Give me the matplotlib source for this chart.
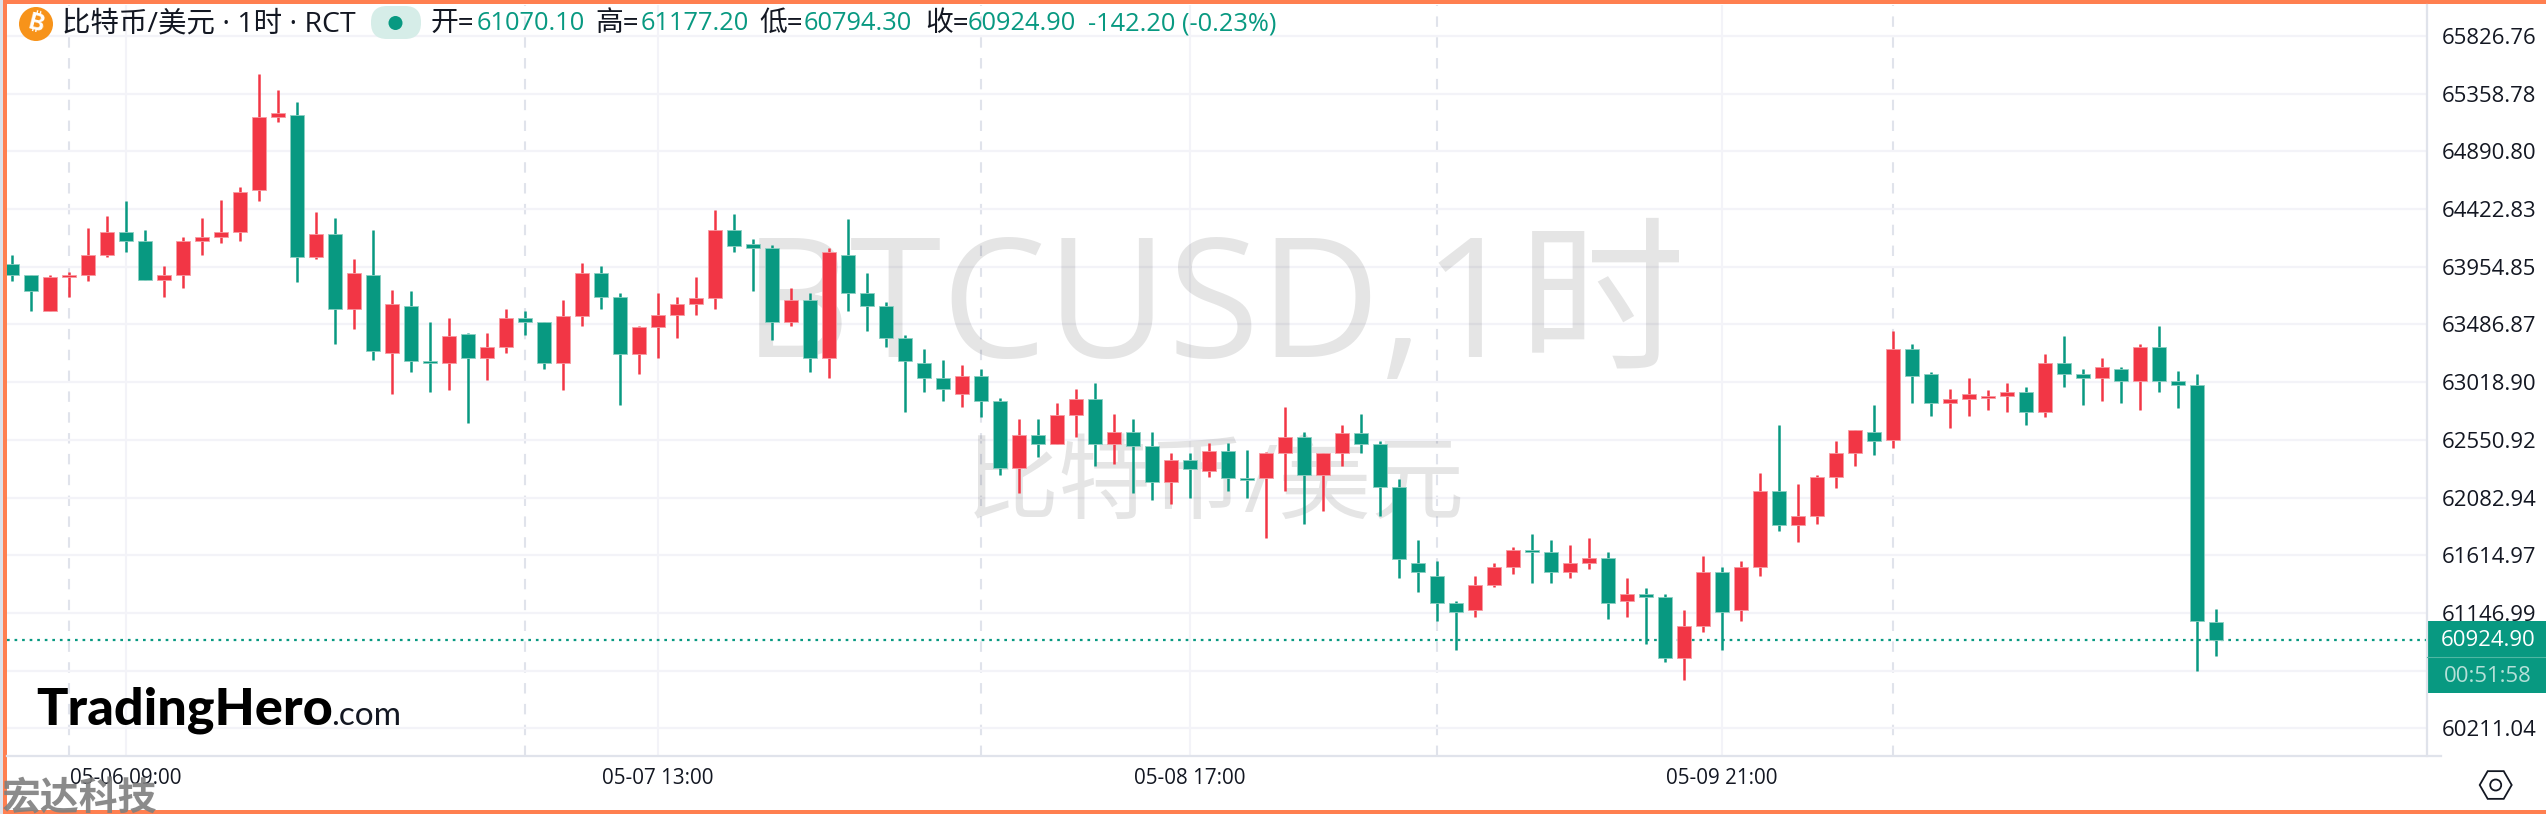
import matplotlib
matplotlib.use("Agg")
import matplotlib.pyplot as plt
from matplotlib.patches import Rectangle, Circle, FancyBboxPatch, RegularPolygon
import numpy as np

plt.rcParams['font.family'] = ['Open Sans', 'Noto Sans CJK SC', 'DejaVu Sans']

opens = [63978,63889,63597,63873,63889,64051,64237,64164,63845,63889,
 64164,64197,64237,64575,65173,65186,64035,64224,63613,63889,
 63259,63640,63189,63172,63408,63216,63305,63540,63508,63172,
 63554,63905,63713,63248,63467,63567,63653,63699,64253,64137,
 64108,63507,63686,63216,64051,63743,63640,63378,63175,63053,
 62924,63069,62867,62326,62591,62515,62751,62883,62515,62618,
 62502,62210,62386,62296,62459,62240,62240,62445,62575,62267,
 62445,62604,62518,62167,61553,61450,61231,61172,61375,61523,
 61656,61639,61480,61553,61596,61245,61304,61277,60780,61042,
 61480,61172,61523,62137,61858,61934,62253,62445,62618,62548,
 63288,63086,62850,62883,62894,62907,62940,62778,63175,63086,
 63053,63126,63029,63305,63029,62997,61070.1]
closes = [63889,63759,63873,63889,64051,64237,64164,63845,63889,64164,
 64197,64237,64562,65173,65202,64035,64224,63613,63905,63275,
 63654,63189,63172,63394,63216,63305,63540,63508,63172,63554,
 63905,63713,63248,63467,63567,63653,63699,64253,64124,64108,
 63507,63686,63216,64078,63743,63640,63378,63188,63053,62967,
 63069,62867,62326,62591,62515,62751,62883,62515,62618,62502,
 62210,62386,62313,62459,62240,62226,62445,62575,62267,62445,
 62604,62518,62167,61583,61480,61231,61158,61375,61523,61656,
 61639,61480,61553,61596,61231,61304,61277,60780,61042,61480,
 61158,61523,62137,61858,61934,62253,62445,62631,62545,63288,
 63069,62850,62883,62923,62910,62940,62778,63175,63086,63053,
 63142,63029,63305,63029,62997,61085,60924.9]
highs = [64051,63889,63889,63913,64270,64367,64489,64254,63962,64197,
 64351,64497,64602,65519,65389,65292,64400,64351,64018,64254,
 63767,63759,63508,63540,63418,63418,63613,63597,63508,63686,
 63986,63962,63743,63475,63743,63710,63872,64416,64383,64180,
 64132,63783,63743,64108,64343,63905,63670,63402,63288,63199,
 63159,63126,62891,62721,62721,62851,62964,63013,62761,62721,
 62616,62445,62445,62526,62526,62469,62453,62818,62615,62445,
 62672,62761,62542,62234,61739,61569,61245,61447,61553,61683,
 61788,61739,61699,61756,61642,61431,61350,61302,61172,61610,
 61520,61569,62283,62672,62194,62267,62542,62631,62834,63434,
 63329,63102,62964,63053,62956,63013,62980,63248,63394,63126,
 63215,63142,63329,63475,63110,63086,61177.2]
lows = [63840,63597,63597,63710,63840,64035,64075,63845,63710,63783,
 64051,64148,64164,64489,65129,63832,64018,63329,63451,63199,
 62924,63102,62940,62956,62689,63037,63256,63402,63126,62956,
 63475,63613,62835,63086,63216,63378,63564,63613,64075,63759,
 63361,63475,63102,63053,63597,63434,63305,62778,62940,62867,
 62818,62737,62267,62121,62413,62515,62575,62340,62356,62121,
 62064,62032,62080,62250,62137,62080,61756,62137,61869,61975,
 62340,62445,61934,61431,61318,61083,60847,61115,61358,61464,
 61391,61391,61431,61504,61099,61115,60896,60750,60604,60993,
 60847,61083,61447,61812,61723,61869,62161,62340,62429,62486,
 62850,62745,62648,62745,62794,62778,62672,62737,62980,62834,
 62867,62850,62794,62940,62810,60677,60794.3]

price_ticks = [65826.76,65358.78,64890.80,64422.83,63954.85,63486.87,63018.90,
               62550.92,62082.94,61614.97,61146.99,60679.02,60211.04]
price_labels = ["65826.76","65358.78","64890.80","64422.83","63954.85","63486.87","63018.90",
                "62550.92","62082.94","61614.97","61146.99","","60211.04"]
time_idx = [6,34,62,90]
time_labels = ["05-06 09:00","05-07 13:00","05-08 17:00","05-09 21:00"]
session_idx = [3,27,51,75,99]
last_price = 60924.90
last_label = "60924.90"
countdown = "00:51:58"

W, H = 2546, 814
UP, DOWN = "#F23645", "#089981"
GRID = "#F3F3F8"
SEP = "#E0E3EB"
INK = "#131722"

fig = plt.figure(figsize=(W/100, H/100), dpi=100, facecolor="white")
L, R, T, B = 7, 2426.5, 5, 756
ax = fig.add_axes([L/W, 1-B/H, (R-L)/W, (B-T)/H])
ov = fig.add_axes([0, 0, 1, 1], zorder=5)
ov.set_xlim(0, W); ov.set_ylim(H, 0); ov.axis("off"); ov.patch.set_alpha(0)

x0, dx = 11.8, 19.0
ax.set_xlim((L-x0)/dx, (R-x0)/dx)
p0, pp = 66118.86, 8.1118
ax.set_ylim(p0-pp*B, p0-pp*T)

ax.set_axisbelow(True)
for s in ax.spines.values():
    s.set_visible(False)
ax.yaxis.tick_right()
ax.set_yticks(price_ticks, price_labels)
ax.set_xticks(time_idx, time_labels)
ax.set_xticks(session_idx, minor=True)
ax.tick_params(axis="y", length=0, pad=11, labelsize=15.9, labelcolor=INK)
ax.tick_params(axis="x", which="major", length=0, pad=9, labelsize=14.9, labelcolor=INK)
ax.tick_params(axis="x", which="minor", length=0)
ax.grid(True, axis="y", color=GRID, lw=1.6)
ax.grid(True, axis="x", which="major", color=GRID, lw=1.5)
ax.grid(True, axis="x", which="minor", color=SEP, lw=1.5, ls=(0, (5, 5)))

# watermarks sit under the candles
ax.text(743, 357, "BTCUSD,1时", transform=ov.transData, zorder=1, alpha=0.1, color="black",
        fontsize=120, va="baseline")
ax.text(966, 512, "比特币/美元", transform=ov.transData, zorder=1, alpha=0.1, color="black", fontsize=67)

idx = np.arange(len(opens))
o, c, h, l = map(np.array, (opens, closes, highs, lows))
cols = [UP if a >= b else DOWN for a, b in zip(c, o)]
edge = ["#F79AA2" if a >= b else "#8CCFC2" for a, b in zip(c, o)]
ax.vlines(idx, l, h, colors=cols, lw=1.8, zorder=3)
ax.bar(idx, np.abs(c-o), bottom=np.minimum(o, c), width=0.765, color=cols, edgecolor=edge, lw=0.6, zorder=4)
ax.axhline(last_price, color=DOWN, lw=1.6, ls=(0, (1.2, 2.2)), zorder=3.5)

# frame and separators
ov.plot([R, R], [T, B], color=SEP, lw=1.6)
ov.plot([L, 2441], [B, B], color=SEP, lw=1.6)
OR = "#FF7F50"
ov.add_patch(Rectangle((0, 0), W, 3.5, color=OR, lw=0))
ov.add_patch(Rectangle((0, H-4), W, 4, color=OR, lw=0))
ov.add_patch(Rectangle((3, 0), 3.5, H, color=OR, lw=0))
ov.add_patch(Rectangle((0, 0), 3, H, color="#DDE1EA", lw=0))

# price tag
ov.add_patch(Rectangle((R, 621), W-R, 72, color=DOWN, lw=0))
ov.plot([R, W], [657, 657], color="#4FB7A3", lw=0.8)
ov.text(2488, 640.5, last_label, color="white", fontsize=15.9, ha="center", va="center")
ov.text(2488, 676.5, countdown, color="#B5E0D8", fontsize=15.9, ha="center", va="center")

# settings icon
ov.add_patch(RegularPolygon((2495.7, 785), 6, radius=16, orientation=np.pi/2, fill=False, ec=INK, lw=1.3))
ov.add_patch(Circle((2495.7, 785), 5.5, fill=False, ec=INK, lw=1.3))

# header
ov.add_patch(Circle((36, 24), 17, color="#F7931A", lw=0))
ov.text(36, 24, "₿", color="white", fontsize=17, fontweight="bold", ha="center", va="center",
        rotation=-14, family=["Inter", "Roboto", "Noto Sans", "DejaVu Sans"])
ov.text(62, 24, "比特币/美元 · 1时 · RCT", color=INK, fontsize=20.5, va="center")
ov.add_patch(FancyBboxPatch((371, 6), 50, 33, boxstyle="round,pad=0,rounding_size=16",
                            fc="#D6EDE8", ec="none", lw=0))
ov.add_patch(Circle((395.5, 23), 7, color=DOWN, lw=0))
for lab, val, xl, xv in [("开=", "61070.10", 431, 477), ("高=", "61177.20", 595, 641),
                         ("低=", "60794.30", 759, 804), ("收=", "60924.90", 925, 968)]:
    ov.text(xl, 24, lab, color=INK, fontsize=20, va="center")
    ov.text(xv, 24, val, color=DOWN, fontsize=18.3, va="center")
ov.text(1088, 24, "-142.20 (-0.23%)", color=DOWN, fontsize=18.3, va="center")

# brand
ov.text(36, 725, "TradingHero", color="black", fontsize=37.5, fontweight="black", family="Lato", va="baseline")
ov.text(331, 725, ".com", color=INK, fontsize=24, family="Lato", va="baseline")
ov.text(2, 811, "宏达科技", color="#7F7F7F", alpha=0.9, fontsize=28, fontweight="bold",
        family="Noto Sans CJK SC", va="baseline")

fig.savefig("out.png", dpi=100, facecolor="white")
